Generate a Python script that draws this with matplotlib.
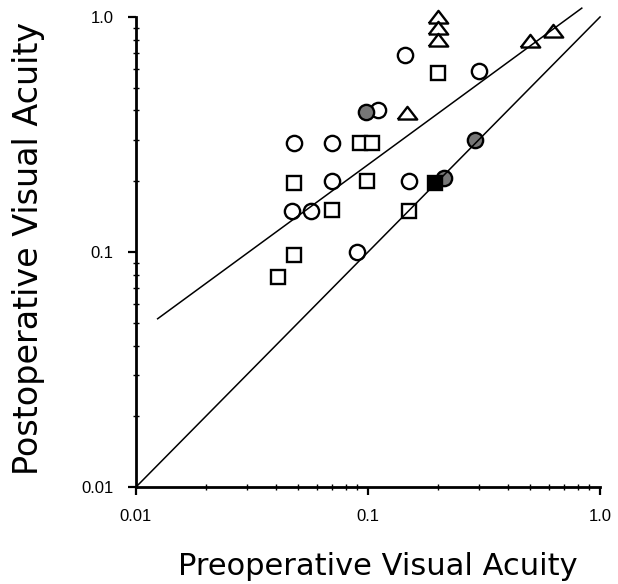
import matplotlib
matplotlib.use("Agg")
import matplotlib.pyplot as plt
from matplotlib.ticker import FixedLocator, NullFormatter

# values (pre-op vs post-op decimal acuity)
circle_x = [0.145, 0.11, 0.048, 0.07, 0.07, 0.15, 0.047, 0.057, 0.09, 0.30]
circle_y = [0.69, 0.40, 0.29, 0.29, 0.20, 0.20, 0.15, 0.15, 0.10, 0.59]

square_x = [0.092, 0.104, 0.048, 0.099, 0.07, 0.15, 0.048, 0.041, 0.20]
square_y = [0.29, 0.29, 0.196, 0.20, 0.151, 0.15, 0.097, 0.078, 0.58]

triangle_x = [0.20, 0.20, 0.20, 0.147, 0.50, 0.625]
triangle_y = [1.00, 0.90, 0.80, 0.39, 0.79, 0.87]

shaded_x = [0.098, 0.29, 0.2125]
shaded_y = [0.395, 0.30, 0.206]

filled_sq_x = [0.195]
filled_sq_y = [0.197]

identity_x = [0.01, 1.0]
identity_y = [0.01, 1.0]
fit_x = [0.0124, 0.834]
fit_y = [0.052, 1.09]

tick_vals = [0.01, 0.1, 1.0]
tick_labels = ["0.01", "0.1", "1.0"]

plt.rcParams["font.family"] = ["Liberation Sans", "DejaVu Sans"]
plt.rcParams["xtick.labelsize"] = 12
plt.rcParams["ytick.labelsize"] = 12

fig = plt.figure(figsize=(6.18, 5.84), dpi=100)
ax = fig.add_axes([0.220, 0.166, 0.751, 0.805])
ax.set_xscale("log")
ax.set_yscale("log")
ax.set_xlim(0.01, 1.0)
ax.set_ylim(0.01, 1.0)

edge = dict(markeredgecolor="black", markeredgewidth=1.7, linestyle="none",
            zorder=2, clip_on=False)
ax.plot(circle_x, circle_y, marker="o", markersize=11, markerfacecolor="white", **edge)
ax.plot(square_x, square_y, marker="s", markersize=10, markerfacecolor="white", **edge)
tri = [(-1, -0.62), (1, -0.62), (0, 0.68), (-1, -0.62)]
ax.plot(triangle_x, triangle_y, marker=tri, markersize=14, markerfacecolor="white", **edge)
ax.plot(shaded_x, shaded_y, marker="o", markersize=11, markerfacecolor="#777777", **edge)
ax.plot(filled_sq_x, filled_sq_y, marker="s", markersize=10, markerfacecolor="black", **edge)

ax.plot(identity_x, identity_y, color="black", lw=1.1, zorder=3, clip_on=False)
ax.plot(fit_x, fit_y, color="black", lw=1.1, zorder=3, clip_on=False)

for s in ["top", "right"]:
    ax.spines[s].set_visible(False)
for s in ["left", "bottom"]:
    ax.spines[s].set_linewidth(2.0)

for axis in (ax.xaxis, ax.yaxis):
    axis.set_major_locator(FixedLocator(tick_vals))
    axis.set_minor_formatter(NullFormatter())
ax.set_xticks(tick_vals, tick_labels)
ax.set_yticks(tick_vals, tick_labels)
ax.tick_params(which="major", direction="out", length=6, width=1.6, pad=10)
ax.tick_params(which="minor", direction="inout", length=4, width=1.0)

ax.set_xlabel("Preoperative Visual Acuity", fontfamily="DejaVu Sans", fontsize=22)
ax.set_ylabel("Postoperative Visual Acuity", fontfamily="DejaVu Sans", fontsize=24)
ax.xaxis.label.set_va("center")
ax.yaxis.label.set_va("center")
ax.xaxis.set_label_coords(0.522, -0.168)
ax.yaxis.set_label_coords(-0.232, 0.508)

fig.savefig("out.png", dpi=100)
